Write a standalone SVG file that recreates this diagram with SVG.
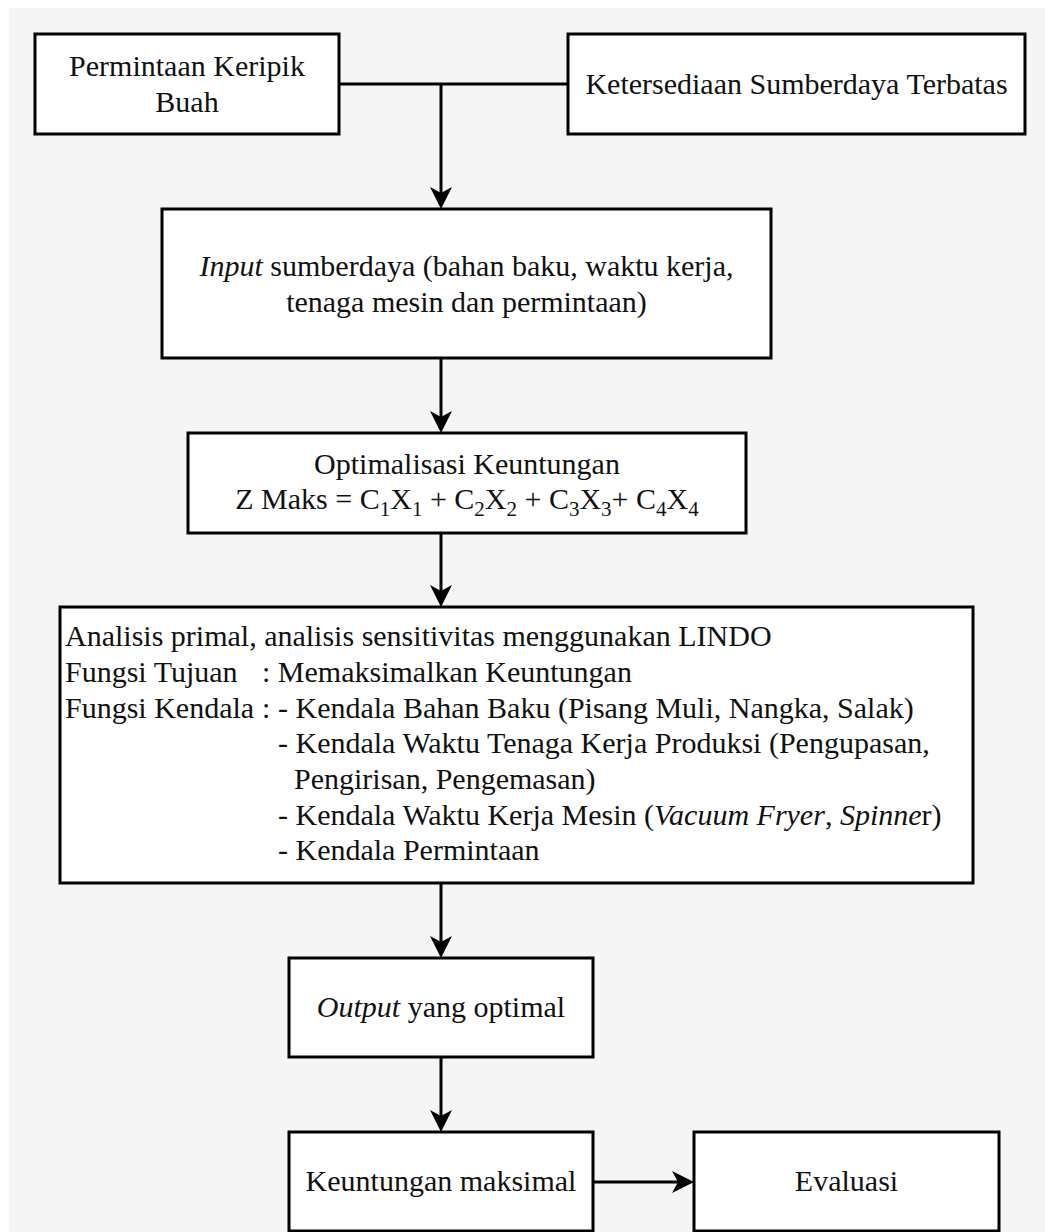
<svg xmlns="http://www.w3.org/2000/svg" width="1045" height="1232" viewBox="0 0 1045 1232">
  <style>
    .box { fill: #ffffff; stroke: #000000; stroke-width: 3; }
    .t { font-family: "Liberation Serif", "Times New Roman", serif; font-size: 30px; fill: #111111; }
    .c { text-anchor: middle; }
    .i { font-style: italic; }
    .sub { font-size: 21px; }
    .edge { fill: none; stroke: #000000; stroke-width: 3; }
  </style>
  <defs>
    <marker id="ah" markerUnits="userSpaceOnUse" markerWidth="22" markerHeight="22" viewBox="0 0 22 22" refX="6" refY="11" orient="auto">
      <path d="M0,0 L22,11 L0,22 L6,11 Z" fill="#000000"/>
    </marker>
  </defs>
  <rect x="0" y="0" width="1045" height="1232" fill="#ffffff"/>
  <rect x="9" y="8" width="1036" height="1224" fill="#f5f5f5"/>

  <g id="connectors">
    <path class="edge" d="M339,84 L568,84"/>
    <path class="edge" d="M441,84 L441,193" marker-end="url(#ah)"/>
    <path class="edge" d="M441,358 L441,417" marker-end="url(#ah)"/>
    <path class="edge" d="M441,533 L441,591" marker-end="url(#ah)"/>
    <path class="edge" d="M441,883 L441,942" marker-end="url(#ah)"/>
    <path class="edge" d="M441,1057 L441,1116" marker-end="url(#ah)"/>
    <path class="edge" d="M593,1182 L678,1182" marker-end="url(#ah)"/>
  </g>

  <g id="node-permintaan">
    <rect class="box" x="35" y="34" width="304" height="100"/>
    <text class="t c" x="187" y="76">Permintaan Keripik</text>
    <text class="t c" x="187" y="112">Buah</text>
  </g>

  <g id="node-ketersediaan">
    <rect class="box" x="568" y="34" width="457" height="100"/>
    <text class="t c" x="796.5" y="94">Ketersediaan Sumberdaya Terbatas</text>
  </g>

  <g id="node-input">
    <rect class="box" x="162" y="209" width="609" height="149"/>
    <text class="t c" x="466.5" y="276"><tspan class="i">Input</tspan> sumberdaya (bahan baku, waktu kerja,</text>
    <text class="t c" x="466.5" y="312">tenaga mesin dan permintaan)</text>
  </g>

  <g id="node-optimalisasi">
    <rect class="box" x="188" y="433" width="558" height="100"/>
    <text class="t c" x="467" y="474">Optimalisasi Keuntungan</text>
    <text class="t c" x="467" y="509">Z Maks = C<tspan class="sub" dy="7">1</tspan><tspan dy="-7">X</tspan><tspan class="sub" dy="7">1</tspan><tspan dy="-7"> + C</tspan><tspan class="sub" dy="7">2</tspan><tspan dy="-7">X</tspan><tspan class="sub" dy="7">2</tspan><tspan dy="-7"> + C</tspan><tspan class="sub" dy="7">3</tspan><tspan dy="-7">X</tspan><tspan class="sub" dy="7">3</tspan><tspan dy="-7">+ C</tspan><tspan class="sub" dy="7">4</tspan><tspan dy="-7">X</tspan><tspan class="sub" dy="7">4</tspan></text>
  </g>

  <g id="node-analisis">
    <rect class="box" x="60" y="607" width="913" height="276"/>
    <text class="t" x="65" y="646">Analisis primal, analisis sensitivitas menggunakan LINDO</text>
    <text class="t" y="682"><tspan x="65">Fungsi Tujuan</tspan><tspan x="262">: Memaksimalkan Keuntungan</tspan></text>
    <text class="t" y="718"><tspan x="65">Fungsi Kendala</tspan><tspan x="262">:</tspan><tspan x="278">- Kendala Bahan Baku (Pisang Muli, Nangka, Salak)</tspan></text>
    <text class="t" x="278" y="753">- Kendala Waktu Tenaga Kerja Produksi (Pengupasan,</text>
    <text class="t" x="294" y="789">Pengirisan, Pengemasan)</text>
    <text class="t" x="278" y="825">- Kendala Waktu Kerja Mesin (<tspan class="i">Vacuum Fryer</tspan>, <tspan class="i">Spinne</tspan>r)</text>
    <text class="t" x="278" y="860">- Kendala Permintaan</text>
  </g>

  <g id="node-output">
    <rect class="box" x="289" y="958" width="304" height="99"/>
    <text class="t c" x="441" y="1017"><tspan class="i">Output</tspan> yang optimal</text>
  </g>

  <g id="node-keuntungan">
    <rect class="box" x="289" y="1132" width="304" height="99"/>
    <text class="t c" x="441" y="1191">Keuntungan maksimal</text>
  </g>

  <g id="node-evaluasi">
    <rect class="box" x="694" y="1132" width="305" height="99"/>
    <text class="t c" x="846.5" y="1191">Evaluasi</text>
  </g>
</svg>
